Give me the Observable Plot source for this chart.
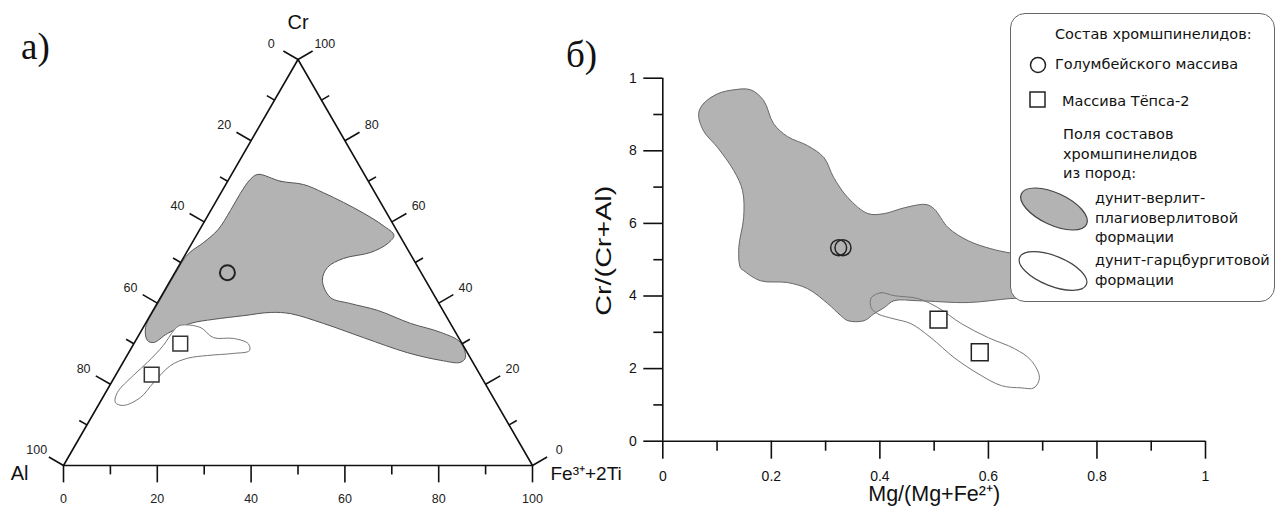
<!DOCTYPE html>
<html><head><meta charset="utf-8">
<script src="https://cdn.jsdelivr.net/npm/d3@7"></script>
<script src="https://cdn.jsdelivr.net/npm/@observablehq/plot@0.6"></script>
<style>
body{margin:0;background:#fff;width:1280px;height:510px;position:relative;overflow:hidden;font-family:"Liberation Sans",Arial,sans-serif;color:#111;}
#tern{position:absolute;left:0;top:0;}
#xy{position:absolute;left:600px;top:0;}
.panel{position:absolute;font-family:"Liberation Serif","Times New Roman",serif;font-size:37px;line-height:37px;color:#111;}
#legend{position:absolute;left:1010px;top:13px;width:265px;height:289px;border:1px solid #666;border-radius:15px;background:#fff;box-sizing:border-box;}
#legend .t{position:absolute;font-family:"DejaVu Sans",sans-serif;font-size:14.5px;line-height:20px;white-space:nowrap;color:#111;}
#legend svg{position:absolute;left:0;top:0;overflow:visible;}
</style>
</head><body>
<div id="tern"></div>
<div id="xy"></div>
<div class="panel" style="left:21px;top:28px;">а)</div>
<div class="panel" style="left:566px;top:36px;">б)</div>
<div id="legend"></div>
<script>
// ---------- Ternary diagram (Cr – Al – Fe3+ + 2Ti), values in % ----------
const ternVertexNames = ["Al", "Cr", "Fe³⁺+2Ti"];
const ternTickValues = [0, 10, 20, 30, 40, 50, 60, 70, 80, 90, 100];
const ternMajorTicks = [0, 20, 40, 60, 80, 100];

// field of dunite–wehrlite–plagiowehrlite formation (Cr %, Fe %)
const ternDunWehrCr = [71.7, 70.0, 69.2, 67.2, 64.8, 62.1, 59.1, 56.7, 54.7, 52.5, 51.0, 48.8, 45.6, 41.4, 39.9, 38.2, 35.0, 32.8, 30.3, 26.6, 25.4, 25.9, 27.8, 31.5, 35.0, 37.4, 37.7, 36.9, 36.0, 35.0, 32.5, 30.3, 30.8, 34.0, 40.6, 47.3, 51.0, 52.7, 54.9, 58.1, 62.8, 67.0, 70.5];
const ternDunWehrFe = [5.6, 11.3, 16.6, 21.8, 27.3, 33.0, 38.6, 42.1, 41.8, 39.3, 34.2, 31.9, 32.4, 36.2, 41.2, 47.9, 56.5, 64.0, 69.5, 72.4, 71.9, 67.5, 59.4, 48.2, 37.9, 29.7, 25.3, 19.9, 14.0, 9.6, 5.9, 4.1, 2.5, 0.5, 0.2, 0.2, 0.3, 0.8, 2.4, 3.9, 4.2, 4.2, 4.6];
// field of dunite–harzburgite formation (Cr %, Fe %)
const ternDunHarzCr = [34.5, 34.0, 31.5, 31.3, 30.0, 28.3, 27.6, 27.1, 26.4, 24.6, 20.4, 16.7, 14.8, 15.5, 18.0, 22.2, 25.4, 29.6, 33.3];
const ternDunHarzFe = [7.6, 12.2, 16.2, 20.6, 24.4, 25.5, 22.4, 17.2, 13.2, 10.5, 9.0, 8.0, 5.4, 3.3, 2.5, 3.8, 5.2, 6.5, 6.9];
// samples
const ternGolumbCr = [47.5];
const ternGolumbFe = [11.2];
const ternTepsaCr = [30.0, 22.4];
const ternTepsaFe = [9.9, 7.6];

// ---------- Cr/(Cr+Al) vs Mg/(Mg+Fe2+) ----------
const xTickValues = [0, 0.2, 0.4, 0.6, 0.8, 1];
const xTickLabels = ["0", "0.2", "0.4", "0.6", "0.8", "1"];
const yTickValues = [0, 0.2, 0.4, 0.6, 0.8, 1];
const yTickLabels = ["0", "2", "4", "6", "8", "1"];
const minorTickValues = [0.1, 0.3, 0.5, 0.7, 0.9];

const xyDunWehrMg = [0.066, 0.075, 0.101, 0.131, 0.162, 0.186, 0.204, 0.230, 0.267, 0.297, 0.315, 0.341, 0.378, 0.408, 0.445, 0.485, 0.500, 0.526, 0.563, 0.605, 0.638, 0.697, 0.697, 0.640, 0.563, 0.470, 0.426, 0.408, 0.389, 0.371, 0.341, 0.328, 0.304, 0.267, 0.230, 0.180, 0.149, 0.143, 0.140, 0.149, 0.147, 0.131, 0.101, 0.075];
const xyDunWehrCr = [0.902, 0.930, 0.957, 0.968, 0.968, 0.938, 0.875, 0.839, 0.814, 0.781, 0.726, 0.671, 0.627, 0.627, 0.643, 0.652, 0.640, 0.588, 0.552, 0.530, 0.519, 0.503, 0.398, 0.393, 0.382, 0.387, 0.387, 0.368, 0.351, 0.332, 0.332, 0.346, 0.379, 0.420, 0.437, 0.442, 0.470, 0.478, 0.533, 0.616, 0.690, 0.745, 0.809, 0.855];
const xyDunHarzMg = [0.384, 0.402, 0.426, 0.470, 0.507, 0.550, 0.600, 0.648, 0.679, 0.694, 0.684, 0.660, 0.624, 0.581, 0.537, 0.494, 0.457, 0.426, 0.396, 0.384];
const xyDunHarzCr = [0.395, 0.409, 0.401, 0.393, 0.368, 0.324, 0.285, 0.255, 0.222, 0.175, 0.147, 0.147, 0.153, 0.186, 0.230, 0.285, 0.324, 0.337, 0.351, 0.368];
const xyGolumbMg = [0.324, 0.332];
const xyGolumbCr = [0.533, 0.533];
const xyTepsaMg = [0.508, 0.584];
const xyTepsaCr = [0.335, 0.245];

// ---------- ternary helpers ----------
const S = Math.sqrt(3) / 2;
const tern = (cr, fe) => ({X: fe + cr / 2, Y: cr * S});
const ternPts = (crs, fes) => crs.map((cr, i) => tern(cr, fes[i]));

const grayT = ternPts(ternDunWehrCr, ternDunWehrFe);
const whiteT = ternPts(ternDunHarzCr, ternDunHarzFe);
const golT = ternPts(ternGolumbCr, ternGolumbFe);
const tepT = ternPts(ternTepsaCr, ternTepsaFe);
const vAl = tern(0, 0), vCr = tern(100, 0), vFe = tern(0, 100);
const triangle = [vAl, vCr, vFe, vAl];

const ticks = [], labB = [], labL = [], labR = [];
const LD = 6.6; // label distance (units)
for (const v of ternTickValues) {
  const major = ternMajorTicks.includes(v);
  const L = major ? 3.6 : 1.9;
  const b = tern(0, v);                 // bottom: Fe = v
  ticks.push({x1: b.X, y1: b.Y, x2: b.X, y2: b.Y - L});
  const l = tern(100 - v, 0);           // left: Al = v
  ticks.push({x1: l.X, y1: l.Y, x2: l.X - S * L, y2: l.Y + 0.5 * L});
  const r = tern(v, 100 - v);           // right: Cr = v
  ticks.push({x1: r.X, y1: r.Y, x2: r.X + S * L, y2: r.Y + 0.5 * L});
  if (major) {
    labB.push({X: b.X, Y: b.Y, t: String(v)});
    labL.push({X: l.X - S * LD, Y: l.Y + 0.5 * LD, t: String(v)});
    labR.push({X: r.X + S * LD, Y: r.Y + 0.5 * LD, t: String(v)});
  }
}
const font = "'Liberation Sans', Arial, sans-serif";

const plotT = Plot.plot({
  width: 600, height: 510, margin: 0,
  x: {domain: [0, 100], range: [63, 532], axis: null},
  y: {domain: [0, 100 * S], range: [465, 59], axis: null},
  style: {background: "transparent", fontFamily: font, color: "#111", overflow: "visible"},
  marks: [
    Plot.line(grayT, {x: "X", y: "Y", curve: "catmull-rom-closed", fill: "#b3b3b3", stroke: "#555", strokeWidth: 1}),
    Plot.line(whiteT, {x: "X", y: "Y", curve: "catmull-rom-closed", fill: "white", stroke: "#777", strokeWidth: 1}),
    Plot.line(triangle, {x: "X", y: "Y", stroke: "#111", strokeWidth: 1.6}),
    Plot.link(ticks, {x1: "x1", y1: "y1", x2: "x2", y2: "y2", stroke: "#111", strokeWidth: 1.6}),
    Plot.text(labB, {x: "X", y: "Y", text: "t", dy: 33, fontSize: 12.5, fill: "#222"}),
    Plot.text(labL, {x: "X", y: "Y", text: "t", fontSize: 12.5, fill: "#222"}),
    Plot.text(labR, {x: "X", y: "Y", text: "t", fontSize: 12.5, fill: "#222"}),
    Plot.text([vCr], {x: "X", y: "Y", text: () => ternVertexNames[1], dy: -37, fontSize: 20, fill: "#111"}),
    Plot.text([vAl], {x: "X", y: "Y", text: () => ternVertexNames[0], dx: -35, dy: 8, textAnchor: "end", fontSize: 20, fill: "#111"}),
    Plot.text([vFe], {x: "X", y: "Y", text: () => ternVertexNames[2], dx: 18, dy: 8, textAnchor: "start", fontSize: 19, fill: "#111"}),
    Plot.dot(golT, {x: "X", y: "Y", r: 7.5, stroke: "#222", strokeWidth: 2, fill: "none"}),
    Plot.dot(tepT, {x: "X", y: "Y", symbol: "square", r: 8.3, stroke: "#333", strokeWidth: 1.5, fill: "white"})
  ]
});
document.getElementById("tern").appendChild(plotT);

// ---------- x/y chart ----------
const grayXY = xyDunWehrMg.map((m, i) => ({mg: m, cr: xyDunWehrCr[i]}));
const whiteXY = xyDunHarzMg.map((m, i) => ({mg: m, cr: xyDunHarzCr[i]}));
const golXY = xyGolumbMg.map((m, i) => ({mg: m, cr: xyGolumbCr[i]}));
const tepXY = xyTepsaMg.map((m, i) => ({mg: m, cr: xyTepsaCr[i]}));

const plotXY = Plot.plot({
  width: 680, height: 510,
  marginLeft: 62.3, marginRight: 75, marginTop: 77.7, marginBottom: 69.3,
  x: {domain: [0, 1], axis: null},
  y: {domain: [0, 1], axis: null},
  style: {background: "transparent", fontFamily: font, color: "#111", overflow: "visible"},
  marks: [
    Plot.line(grayXY, {x: "mg", y: "cr", curve: "catmull-rom-closed", fill: "#b3b3b3", stroke: "#666", strokeWidth: 1}),
    Plot.line(whiteXY, {x: "mg", y: "cr", curve: "catmull-rom-closed", fill: "none", stroke: "#777", strokeWidth: 1}),
    Plot.ruleY([0], {x1: 0, x2: 1, stroke: "#111", strokeWidth: 1.6}),
    Plot.ruleX([0], {y1: 0, y2: 1, stroke: "#111", strokeWidth: 1.6}),
    Plot.axisX({ticks: xTickValues, tickSize: 18, tickPadding: 12, strokeWidth: 1.6, fontSize: 14, label: null,
      tickFormat: d => xTickLabels[xTickValues.indexOf(d)]}),
    Plot.axisX({ticks: minorTickValues, tickSize: 10, strokeWidth: 1.6, label: null, tickFormat: () => ""}),
    Plot.axisY({ticks: yTickValues, tickSize: 19, tickPadding: 7, strokeWidth: 1.6, fontSize: 14, label: null,
      tickFormat: d => yTickLabels[yTickValues.indexOf(d)]}),
    Plot.axisY({ticks: minorTickValues, tickSize: 9, strokeWidth: 1.6, label: null, tickFormat: () => ""}),
    Plot.text(["Mg/(Mg+Fe²⁺)"], {frameAnchor: "bottom", dy: 60, fontSize: 21.5, fill: "#111"}),
    Plot.text(["Cr/(Cr+Al)"], {frameAnchor: "left", dx: -59, dy: -9, rotate: -90, textAnchor: "middle", fontSize: 22, fill: "#111"}),
    Plot.dot(golXY, {x: "mg", y: "cr", r: 8, stroke: "#222", strokeWidth: 1.5, fill: "none"}),
    Plot.dot(tepXY, {x: "mg", y: "cr", symbol: "square", r: 9.5, stroke: "#222", strokeWidth: 1.5, fill: "white"})
  ]
});
document.getElementById("xy").appendChild(plotXY);
// the reference's vertical title is drawn elongated
d3.select(plotXY).selectAll("text").filter(function () { return this.textContent === "Cr/(Cr+Al)"; })
  .attr("textLength", 130).attr("lengthAdjust", "spacingAndGlyphs");

// ---------- legend ----------
const legendTitle = "Состав хромшпинелидов:";
const legendSeries = ["Голумбейского массива", "Массива Тёпса-2"];
const legendFieldsTitle = ["Поля составов", "хромшпинелидов", "из пород:"];
const legendFields = [["дунит-верлит-", "плагиоверлитовой", "формации"], ["дунит-гарцбургитовой", "формации"]];

const lg = document.getElementById("legend");
const addT = (txt, left, cy) => {
  const d = document.createElement("div");
  d.className = "t"; d.textContent = txt;
  d.style.left = left + "px"; d.style.top = (cy - 10) + "px";
  lg.appendChild(d);
};
lg.innerHTML = `<svg width="265" height="289">
  <circle cx="27" cy="51" r="7.5" fill="none" stroke="#222" stroke-width="1.5"/>
  <rect x="19" y="78" width="15" height="15" fill="none" stroke="#222" stroke-width="1.5"/>
  <ellipse cx="43" cy="195" rx="36" ry="16" transform="rotate(25 43 195)" fill="#b3b3b3" stroke="#444" stroke-width="1.2"/>
  <ellipse cx="42" cy="257" rx="36" ry="15" transform="rotate(22 42 257)" fill="#fff" stroke="#444" stroke-width="1.2"/>
</svg>`;
addT(legendTitle, 44, 20);
addT(legendSeries[0], 44, 50);
addT(legendSeries[1], 51, 87);
legendFieldsTitle.forEach((t, i) => addT(t, 52, 120 + i * 19.5));
legendFields[0].forEach((t, i) => addT(t, 84, 184 + i * 19.5));
legendFields[1].forEach((t, i) => addT(t, 84, 246 + i * 20));
</script>
</body></html>
